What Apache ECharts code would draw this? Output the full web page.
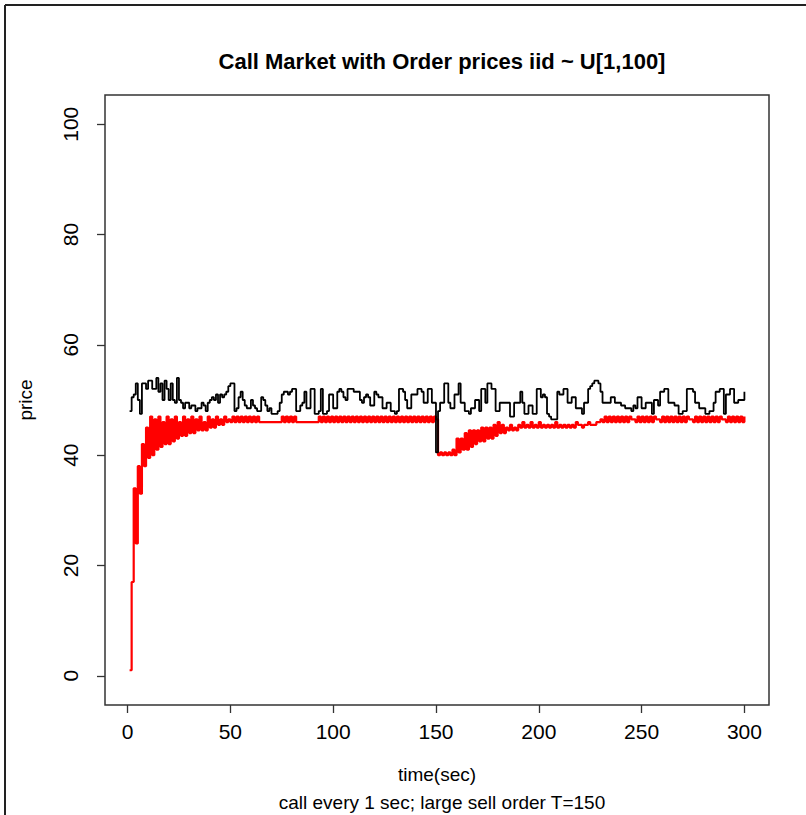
<!DOCTYPE html>
<html>
<head>
<meta charset="utf-8">
<script src="https://cdn.jsdelivr.net/npm/echarts@6/dist/echarts.min.js"></script>
<style>
html,body{margin:0;padding:0;background:#fff;}
#chart{width:806px;height:815px;}
</style>
</head>
<body>
<div id="chart"></div>
<script>
const titleText = 'Call Market with Order prices iid ~ U[1,100]';
const xTitle = 'time(sec)';
const subTitle = 'call every 1 sec; large sell order T=150';
const yTitle = 'price';
const xTicks = [0, 50, 100, 150, 200, 250, 300];
const yTicks = [0, 20, 40, 60, 80, 100];

// clearing price (black, step line), t = 1..300
const blackPrice = [
  48, 50.5, 51, 53, 50, 47.5, 53, 53, 52, 53.5,
  53.5, 52, 52, 54, 51.5, 53, 50, 53.5, 52, 50,
  53, 50, 49.5, 54, 50, 49.5, 48.5, 49.5, 49.5, 48.5,
  49, 49, 48, 48.5, 48.5, 49.5, 49, 48, 49.5, 50,
  50.5, 50, 51, 49.5, 51, 50.5, 51, 51.5, 52.5, 53,
  53, 48, 48.5, 50.5, 51.5, 50, 49, 48.5, 48.5, 50,
  49, 48.5, 48, 48, 50.5, 50, 49, 48, 48.5, 47.5,
  47.5, 47.5, 48, 49.5, 51, 51.5, 51.5, 51, 51.5, 52,
  52, 48, 48, 49, 49.5, 51.5, 48.5, 48.5, 52, 52,
  47.5, 47.5, 48, 52, 47.5, 47.5, 48, 51, 51, 48.5,
  48.5, 51.5, 52, 51.5, 50.5, 50, 52, 52, 52, 51.5,
  51.5, 51.5, 50, 49.5, 50.5, 51, 50.5, 49, 49, 51.5,
  51, 50.5, 50.5, 48.5, 48.5, 49.5, 49.5, 48, 48, 47.5,
  48, 52, 52, 51.5, 50, 48.5, 48.5, 51, 51, 51,
  52, 52, 51.5, 49.5, 49.5, 52, 52, 49.5, 49.5, 40.5,
  48, 49.5, 49.5, 53, 53, 49.5, 48.5, 48.5, 51, 51,
  53, 49.5, 49.5, 48, 48, 47.5, 48.5, 48.5, 50, 50,
  48, 52, 52, 49.5, 53, 53, 52, 52, 48, 48,
  49.5, 49.5, 49.5, 49.5, 49.5, 47, 47, 49.5, 49.5, 49.5,
  51.5, 49.5, 47.5, 47.5, 49, 49, 47.5, 47.5, 52, 52,
  50.5, 51, 50.5, 47.5, 47, 46.5, 46.5, 46.5, 51.5, 51,
  51, 52, 52, 49.5, 49.5, 50.5, 50.5, 48.5, 48.5, 48.5,
  47.5, 49.5, 49.5, 52, 52.5, 53, 53.5, 53.5, 53, 51.5,
  49.5, 49.5, 49.5, 49.5, 50.5, 50.5, 49.5, 49.5, 49.5, 49,
  49, 48.5, 48.5, 48.5, 48, 49, 48.5, 50.5, 50.5, 48.5,
  48.5, 49.5, 49.5, 49.5, 47.5, 50, 50, 49, 51.5, 51.5,
  52, 52, 49.5, 49.5, 49.5, 49, 49, 47.5, 47.5, 48,
  48, 52, 52, 52, 51.5, 49.5, 49.5, 48.5, 48.5, 48.5,
  47.5, 47.5, 48, 48, 49.5, 51.5, 51.5, 52, 52, 47.5,
  51, 51, 52, 52, 49.5, 49.5, 50, 50, 50, 51.5
];

// bid price (red), t = 1..300
const redPrice = [
  1, 17, 34, 24, 38, 33, 42, 38, 45, 39.5,
  47, 40, 46.5, 41, 47, 41.5, 46, 42, 47, 42,
  46.5, 42.5, 47, 43, 46, 43.5, 47, 43.5, 46.5, 44,
  47, 44, 46.5, 44.5, 47, 44.5, 46, 44.5, 47, 45,
  46.5, 45, 47, 45.5, 46.5, 45.5, 47, 46, 46.5, 46,
  47, 46, 47, 46, 47, 46, 47, 46, 47, 46,
  47, 46, 47, 46, 46, 46, 46, 46, 46, 46,
  46, 46, 46, 46, 47, 46, 47, 46, 47, 46,
  47, 46, 46, 46, 46, 46, 46, 46, 46, 46,
  46, 46, 47, 46, 47, 46, 47, 46, 47, 46,
  47, 46, 47, 46, 47, 46, 47, 46, 47, 46,
  47, 46, 47, 46, 47, 46, 47, 46, 47, 46,
  47, 46, 47, 46, 47, 46, 47, 46, 47, 46,
  47, 46, 47, 46, 47, 46, 47, 46, 47, 46,
  47, 46, 47, 46, 47, 46, 47, 46, 47, 46.5,
  40, 40.5, 40, 40.5, 40, 40.5, 40, 41, 40, 43,
  40.5, 43, 41, 44, 41, 44.5, 41.5, 44.5, 42, 44.5,
  42.5, 45, 42.5, 45, 43, 45, 43, 45.5, 43.5, 46,
  44, 45.5, 44, 45, 44.5, 45.5, 44.5, 45, 44.5, 45.5,
  45, 46, 45, 45.5, 45, 46, 45, 45.5, 45, 46,
  45, 45.5, 45, 45.5, 45, 45.5, 45, 46, 45, 45.5,
  45, 45.5, 45, 45.5, 45, 45.5, 45, 46, 45.5, 45.5,
  45, 45.5, 45.5, 46, 45.5, 45.5, 45.5, 46, 46, 46.5,
  46, 47, 46, 47, 46, 47, 46, 47, 46, 47,
  46, 47, 46, 47, 46.5, 46.5, 46, 47, 46, 47,
  46, 47, 46, 47, 46, 47, 46.5, 46.5, 46, 47,
  46, 47, 46, 47, 46, 47, 46, 47, 46, 47,
  46, 47, 46.5, 46.5, 46, 47, 46, 47, 46, 47,
  46, 47, 46, 47, 46, 47, 46, 47, 46.5, 46.5,
  46, 47, 46, 47, 46, 47, 46, 47, 46, 47
];

const times = blackPrice.map((_, i) => i + 1);

const chart = echarts.init(document.getElementById('chart'), null, {renderer: 'svg'});
const FONT = 'Liberation Sans, Arial, sans-serif';
const option = {
  backgroundColor: '#fff',
  animation: false,
  title: [
    {text: titleText, left: 437, top: 45, textAlign: 'center',
     textStyle: {fontFamily: FONT, fontSize: 22, fontWeight: 'bold', color: '#000'}},
    {text: subTitle, left: 437, top: 788, textAlign: 'center',
     textStyle: {fontFamily: FONT, fontSize: 19, fontWeight: 'normal', color: '#000'}}
  ],
  grid: {left: 105, right: 37, top: 95, bottom: 110, show: true,
         borderColor: '#333', borderWidth: 1.5, backgroundColor: 'transparent'},
  xAxis: {
    type: 'value', min: -10.96, max: 311.96,
    name: xTitle, nameLocation: 'middle', nameGap: 60,
    nameTextStyle: {fontFamily: FONT, fontSize: 19, color: '#000'},
    axisLine: {show: false, onZero: false},
    axisTick: {show: true, customValues: xTicks, length: 8, lineStyle: {color: '#333', width: 1.3}},
    axisLabel: {customValues: xTicks, margin: 16, fontFamily: FONT, fontSize: 21, color: '#000'},
    splitLine: {show: false}
  },
  yAxis: {
    type: 'value', min: -5.3, max: 105.3,
    name: yTitle, nameLocation: 'middle', nameGap: 70, nameRotate: 90,
    nameTextStyle: {fontFamily: FONT, fontSize: 19, color: '#000'},
    axisLine: {show: false, onZero: false},
    axisTick: {show: true, customValues: yTicks, length: 8, lineStyle: {color: '#333', width: 1.3}},
    axisLabel: {customValues: yTicks, rotate: 90, margin: 24, fontFamily: FONT, fontSize: 21, color: '#000'},
    splitLine: {show: false}
  },
  graphic: [
    {type: 'line', shape: {x1: 5, y1: 5, x2: 806, y2: 5}, style: {stroke: '#222', lineWidth: 2}},
    {type: 'line', shape: {x1: 5, y1: 5, x2: 5, y2: 815}, style: {stroke: '#222', lineWidth: 2}}
  ],
  series: [
    {type: 'line', name: 'bid', data: times.map((t, i) => [t, redPrice[i]]),
     step: 'end', showSymbol: false, lineStyle: {color: '#ff0000', width: 2.2}, z: 2},
    {type: 'line', name: 'price', data: times.map((t, i) => [t, blackPrice[i]]),
     step: 'end', showSymbol: false, lineStyle: {color: '#000', width: 1.8}, z: 3}
  ]
};
chart.setOption(option);
</script>
</body>
</html>
